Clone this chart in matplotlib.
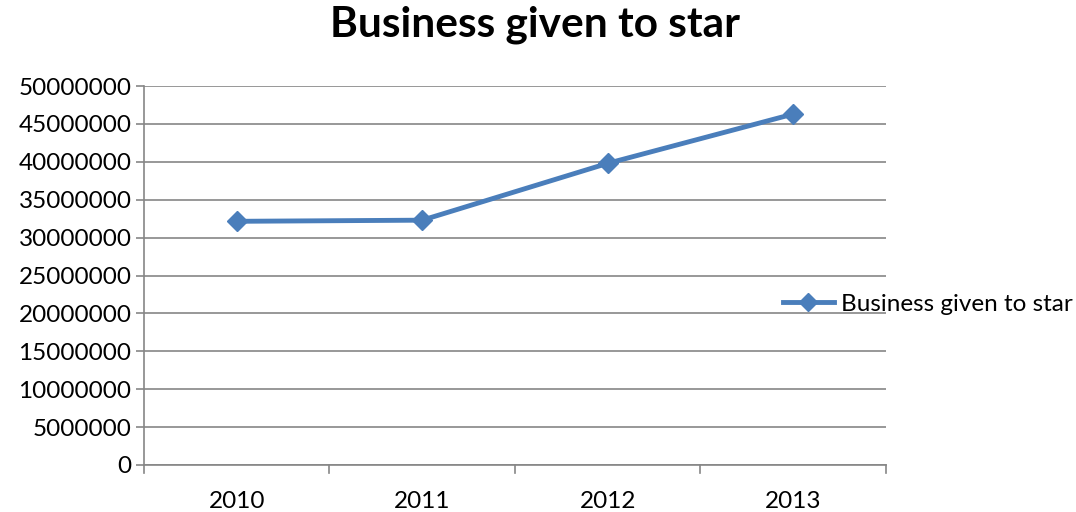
import matplotlib
matplotlib.use('Agg')
import matplotlib.pyplot as plt
from matplotlib.lines import Line2D

plt.rcParams['font.family'] = ['Lato', 'DejaVu Sans']

years = ['2010', '2011', '2012', '2013']
business = [32150000, 32300000, 39800000, 46300000]
y_ticks = list(range(0, 50000001, 5000000))

blue = '#4a7ebb'
grid_col = '#868686'

fig = plt.figure(figsize=(10.76, 5.12), dpi=100)
ax = fig.add_axes([0.1338, 0.0918, 0.6896, 0.7402])

x = range(len(years))
ax.plot(x, business, color=blue, lw=3.5, marker='D', markersize=10,
        solid_capstyle='round', zorder=3)

ax.set_xlim(-0.5, len(years) - 0.5)
ax.set_ylim(0, 50000000)
ax.set_yticks(y_ticks)
ax.set_yticklabels([str(v) for v in y_ticks], fontsize=17.5)
ax.set_xticks(list(x))
ax.set_xticklabels(years, fontsize=17.5)
ax.tick_params(axis='x', length=0, pad=19)
ax.tick_params(axis='y', length=6, width=1.2, color=grid_col, pad=3)

# category boundary ticks on the x axis
for b in [i - 0.5 for i in range(len(years) + 1)]:
    ax.plot([b, b], [0, -1000000], color=grid_col, lw=1.2, clip_on=False)

ax.yaxis.grid(True, color=grid_col, lw=1.2)
ax.set_axisbelow(True)
for side in ['top', 'right']:
    ax.spines[side].set_visible(False)
for side in ['left', 'bottom']:
    ax.spines[side].set_color(grid_col)
    ax.spines[side].set_linewidth(1.2)

fig.text(0.497, 0.928, 'Business given to star', ha='center', va='baseline',
         fontsize=30.5, fontweight='bold')

handle = Line2D([], [], color=blue, lw=3.5, marker='D', markersize=9)
fig.legend([handle], ['Business given to star'], loc='center left',
           bbox_to_anchor=(0.707, 0.406), frameon=False, fontsize=17.5,
           handlelength=2.1, handletextpad=0.3)

fig.savefig('out.png', dpi=100)
